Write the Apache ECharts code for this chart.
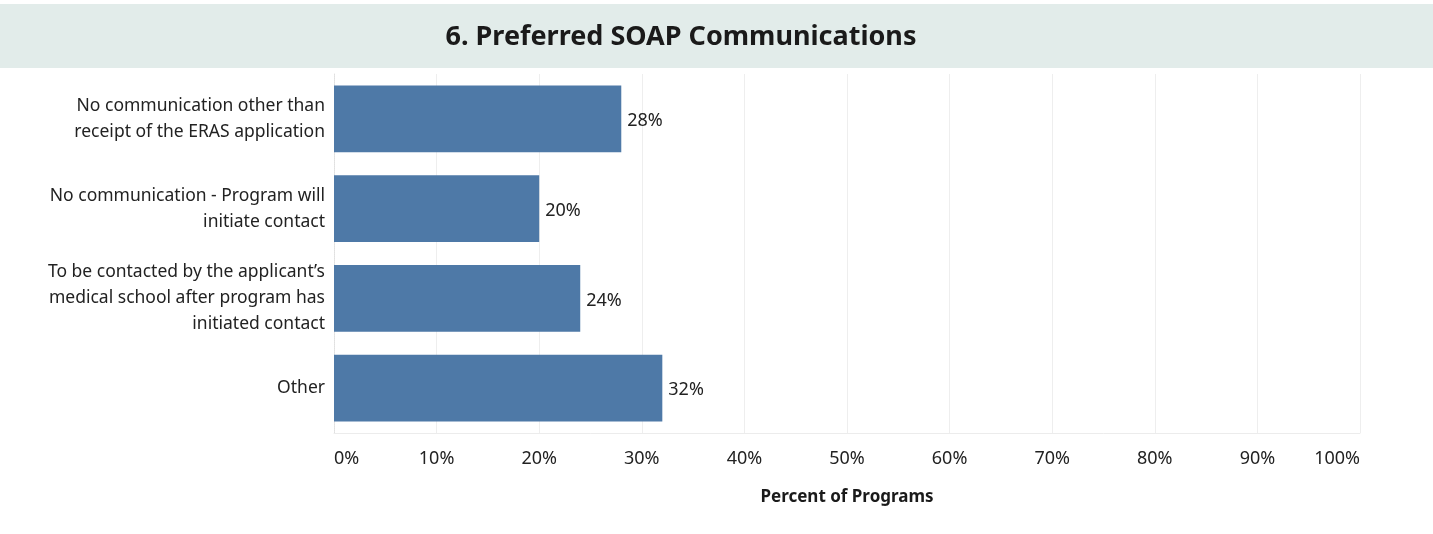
<!DOCTYPE html>
<html>
<head>
<meta charset="utf-8">
<script src="https://cdn.jsdelivr.net/npm/echarts@6/dist/echarts.min.js"></script>
<style>
html,body{margin:0;padding:0;background:#fff;}
#chart{width:1433px;height:534px;}
</style>
</head>
<body>
<div id="chart"></div>
<script>
var titleText = '6. Preferred SOAP Communications';
var categories = [
  'No communication other than\nreceipt of the ERAS application',
  'No communication - Program will\ninitiate contact',
  'To be contacted by the applicant\u2019s\nmedical school after program has\ninitiated contact',
  'Other'
];
var percentValues = [28, 20, 24, 32];
var axisName = 'Percent of Programs';

var FONT = '"Noto Sans", sans-serif';
var chart = echarts.init(document.getElementById('chart'));
chart.setOption({
  animation: false,
  graphic: [
    { type: 'rect', shape: { x: 0, y: 4, width: 1433, height: 64 }, style: { fill: '#e2ecea' }, silent: true, z: -1 },
    { type: 'text', x: 681, y: 37, style: { text: titleText, fontFamily: FONT, fontSize: 27, fontWeight: 'bold', fill: '#1a1a1a', textAlign: 'center', textVerticalAlign: 'middle' } }
  ],
  grid: { left: 334, right: 73, top: 74, bottom: 101, containLabel: false },
  xAxis: {
    type: 'value', min: 0, max: 100, interval: 10,
    name: axisName, nameLocation: 'middle', nameGap: 56,
    nameTextStyle: { fontFamily: FONT, fontSize: 17, fontWeight: 'bold', color: '#1a1a1a' },
    axisLine: { show: true, lineStyle: { color: '#ececec' } },
    axisTick: { show: false },
    axisLabel: { formatter: '{value}%', fontFamily: FONT, fontSize: 18, color: '#222', margin: 17, alignMinLabel: 'left', alignMaxLabel: 'right' },
    splitLine: { show: true, lineStyle: { color: '#eeeeee', width: 1 } }
  },
  yAxis: {
    type: 'category', data: categories, inverse: true,
    axisLine: { show: true, lineStyle: { color: '#e0e0e0', type: 'dotted' } },
    axisTick: { show: false },
    axisLabel: { fontFamily: FONT, fontSize: 17.5, color: '#222', margin: 9, lineHeight: 26, align: 'right' }
  },
  series: [{
    type: 'bar', data: percentValues, barCategoryGap: '25.5%',
    itemStyle: { color: '#4e79a7' },
    label: { show: true, position: 'right', distance: 6, formatter: '{c}%', fontFamily: FONT, fontSize: 18, color: '#222', offset: [0, 2] }
  }]
});
</script>
</body>
</html>
